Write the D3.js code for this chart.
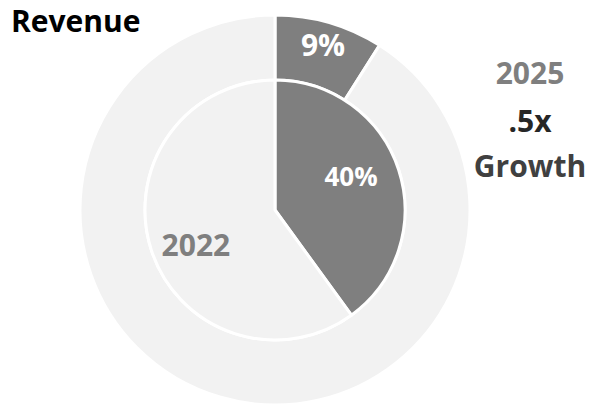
<!DOCTYPE html>
<html>
<head>
<meta charset="utf-8">
<script src="https://cdn.jsdelivr.net/npm/d3@7"></script>
<style>
  html, body { margin: 0; padding: 0; background: #fff; }
  svg { display: block; font-family: "Open Sans", Lato, sans-serif; }
</style>
</head>
<body>
<svg id="chart" width="592" height="407"></svg>
<script>
// Revenue share: outer ring = 2025, inner pie = 2022
const sliceNames = ["Share", "Other"];
const share2025 = [9, 91];
const share2022 = [40, 60];
const shareLabels2025 = ["9%", null];
const shareLabels2022 = ["40%", "2022"];
const sliceColors = ["#7f7f7f", "#f2f2f2"];
const labelColors2022 = ["#ffffff", "#7f7f7f"];

const width = 592, height = 407;
const cx = 275, cy = 210;
const rOuter = 195, rInner = 130;

const svg = d3.select("#chart");
const g = svg.append("g").attr("transform", `translate(${cx},${cy})`);

const pie = d3.pie().sort(null).value(d => d);
const color = d3.scaleOrdinal().domain(sliceNames).range(sliceColors);

// Outer ring (2025)
const arcs2025 = pie(share2025);
const ringArc = d3.arc().innerRadius(rInner).outerRadius(rOuter);
g.selectAll("path.ring")
  .data(arcs2025)
  .join("path")
  .attr("class", "ring")
  .attr("d", ringArc)
  .attr("fill", (d, i) => color(sliceNames[i]))
  .attr("stroke", "#fff")
  .attr("stroke-width", 3)
  .attr("stroke-linejoin", "miter");

// Inner pie (2022)
const arcs2022 = pie(share2022);
const pieArc = d3.arc().innerRadius(0).outerRadius(rInner);
g.selectAll("path.core")
  .data(arcs2022)
  .join("path")
  .attr("class", "core")
  .attr("d", pieArc)
  .attr("fill", (d, i) => color(sliceNames[i]))
  .attr("stroke", "#fff")
  .attr("stroke-width", 3)
  .attr("stroke-linejoin", "round");

// Slice labels
const ringLabelArc = d3.arc().innerRadius(172).outerRadius(172);
g.selectAll("text.ringLabel")
  .data(arcs2025.filter((d, i) => shareLabels2025[i]))
  .join("text")
  .attr("class", "ringLabel")
  .attr("transform", d => `translate(${ringLabelArc.centroid(d)})`)
  .attr("text-anchor", "middle")
  .attr("dominant-baseline", "central")
  .attr("fill", "#fff")
  .attr("font-weight", 700)
  .attr("font-size", 30)
  .text(d => shareLabels2025[d.index]);

const coreLabelArc = d3.arc().innerRadius(80).outerRadius(80);
g.selectAll("text.coreLabel")
  .data(arcs2022)
  .join("text")
  .attr("class", "coreLabel")
  .attr("transform", d => {
    const [x, y] = coreLabelArc.centroid(d);
    return `translate(${x - (d.index === 0 ? 0 : 3)},${d.index === 0 ? y - 9 : y + 10})`;
  })
  .attr("text-anchor", "middle")
  .attr("dominant-baseline", "central")
  .attr("fill", d => labelColors2022[d.index])
  .attr("font-weight", 700)
  .attr("font-size", d => d.index === 0 ? 26 : 30)
  .text(d => shareLabels2022[d.index]);

// Title
svg.append("text")
  .attr("x", 11)
  .attr("y", 32)
  .attr("fill", "#000")
  .attr("font-weight", 700)
  .attr("font-size", 30)
  .text("Revenue");

// Growth callout
const callout = [
  { text: "2025", color: "#7f7f7f", y: 84, size: 30 },
  { text: ".5x", color: "#262626", y: 132, size: 30 },
  { text: "Growth", color: "#404040", y: 177, size: 30 }
];
svg.selectAll("text.callout")
  .data(callout)
  .join("text")
  .attr("class", "callout")
  .attr("x", 530)
  .attr("y", d => d.y)
  .attr("text-anchor", "middle")
  .attr("fill", d => d.color)
  .attr("font-weight", 700)
  .attr("font-size", d => d.size)
  .text(d => d.text);
</script>
</body>
</html>
